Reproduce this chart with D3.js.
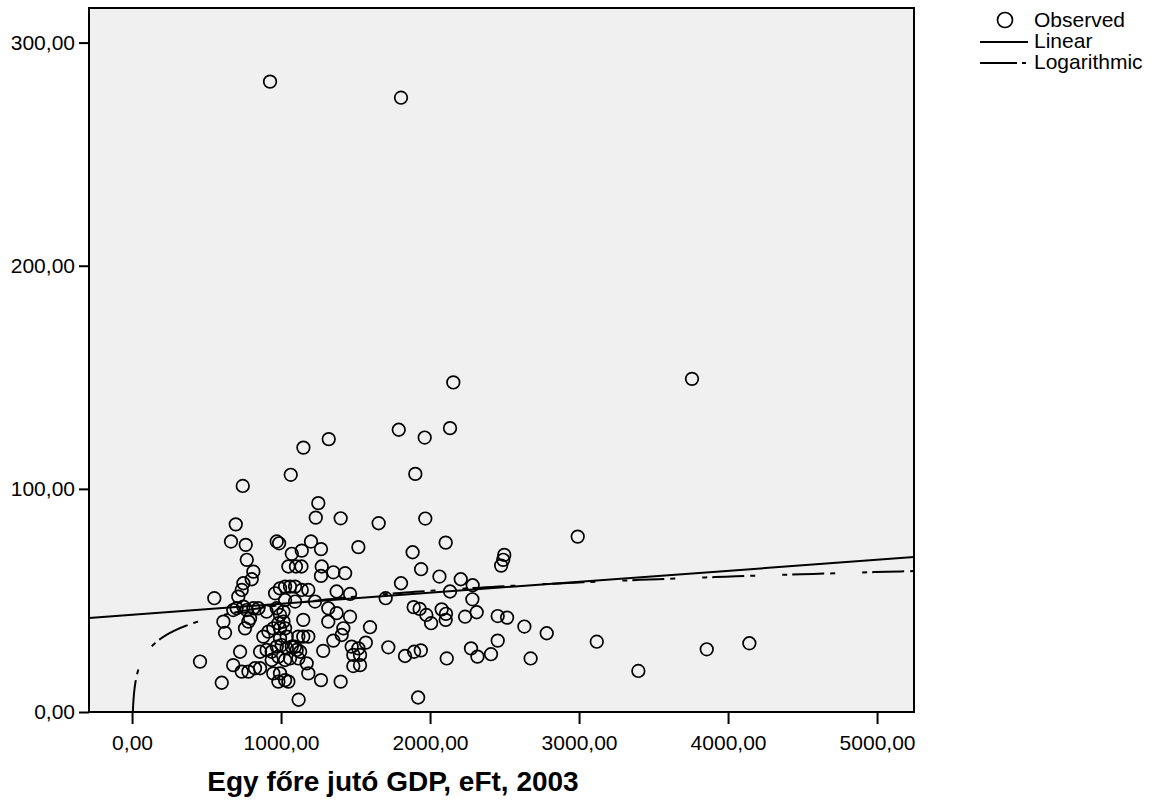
<!DOCTYPE html>
<html>
<head>
<meta charset="utf-8">
<script src="https://cdn.jsdelivr.net/npm/d3@7"></script>
<style>
  html, body { margin: 0; padding: 0; background: #ffffff; }
  svg { display: block; }
  text { font-family: "Liberation Sans", Arial, sans-serif; fill: #000; }
</style>
</head>
<body>
<svg id="chart" width="1152" height="801"></svg>
<script>
// GDP per capita (thousand Ft, 2003) for each observation
const gdp = [
  926, 1805, 2156, 3758, 1790, 1964, 2134, 1320, 1150, 743,
  1065, 1901, 1250, 1233, 1400, 1968, 1655, 696, 664, 763,
  971, 987, 1201, 2105, 2991, 1268, 1519, 1139, 1072, 1883,
  2498, 2491, 2477, 770, 1049, 1100, 1137, 1273, 1268, 1351,
  1430, 1940, 814, 803, 2063, 2206, 1805, 2286, 747, 736,
  960, 993, 1027, 1060, 1094, 1139, 1183, 1373, 1463, 2134,
  552, 713, 1094, 1027, 1228, 1702, 2284, 1317, 1373, 1890,
  1930, 1975, 2007, 2078, 2107, 2105, 2235, 2313, 2454, 2517,
  2633, 2783, 1149, 1317, 1463, 1418, 1407, 1597, 1116, 1149,
  1183, 1351, 1569, 1720, 1094, 1128, 1116, 1172, 1283, 1474,
  1519, 1485, 1530, 1485, 1530, 1832, 1893, 1938, 2112, 2275,
  2318, 2409, 2454, 2675, 1920, 1183, 1268, 1400, 1118, 3119,
  3398, 3857, 4143, 679, 702, 747, 770, 814, 848, 792,
  781, 613, 624, 758, 903, 971, 993, 1016, 982, 1016,
  993, 1027, 881, 915, 948, 993, 1038, 859, 903, 937,
  971, 1004, 1038, 1072, 1105, 937, 982, 1027, 1060, 725,
  456, 679, 736, 781, 825, 859, 948, 993, 1027, 1049,
  982, 602
];
// Observed values on the vertical axis, same order as gdp
const observed = [
  282.5, 275.3, 147.7, 149.3, 126.5, 123.0, 127.2, 122.3, 118.5, 101.3,
  106.3, 106.7, 93.6, 87.1, 86.8, 86.7, 84.6, 84.1, 76.4, 74.9,
  76.4, 75.6, 76.4, 75.9, 78.6, 73.0, 73.9, 72.3, 70.9, 71.6,
  70.4, 68.2, 65.6, 68.2, 65.2, 65.2, 65.2, 65.2, 61.0, 62.6,
  62.2, 64.0, 62.9, 59.5, 60.7, 59.5, 57.7, 56.8, 57.7, 54.7,
  53.2, 55.4, 56.2, 56.2, 56.2, 54.7, 54.7, 54.0, 52.9, 54.0,
  51.0, 51.7, 49.5, 50.2, 49.5, 51.0, 50.5, 46.5, 44.3, 47.0,
  46.2, 43.5, 39.8, 46.0, 44.0, 41.3, 42.7, 44.7, 43.0, 42.3,
  38.3, 35.3, 41.3, 40.5, 42.7, 37.5, 34.5, 38.0, 33.8, 33.8,
  33.8, 32.0, 31.1, 29.0, 29.3, 27.0, 24.0, 21.8, 27.4, 29.3,
  28.5, 25.6, 25.6, 20.6, 21.0, 25.1, 27.0, 27.6, 24.0, 28.5,
  24.8, 25.9, 32.0, 24.0, 6.5, 17.3, 14.3, 13.6, 5.5, 31.5,
  18.4, 28.1, 30.8, 45.7, 46.5, 47.2, 45.7, 46.5, 46.5, 42.0,
  40.5, 40.5, 35.5, 37.5, 45.0, 46.5, 43.5, 45.0, 39.8, 40.5,
  37.5, 37.5, 33.8, 36.0, 37.5, 33.0, 33.8, 27.0, 27.8, 27.0,
  29.3, 30.0, 28.5, 29.3, 27.8, 23.3, 24.8, 23.3, 24.0, 27.0,
  22.6, 21.0, 18.1, 18.1, 19.6, 19.6, 17.3, 17.3, 14.3, 13.6,
  13.6, 13.1
];

// Fitted models
const linearIntercept = 43.6, linearSlope = 0.00492;
const logIntercept = -15.3, logSlope = 9.16;

// Axis ticks
const xTicks = [0, 1000, 2000, 3000, 4000, 5000];
const yTicks = [0, 100, 200, 300];
const xTitle = "Egy főre jutó GDP, eFt, 2003";
const legendLabels = ["Observed", "Linear", "Logarithmic"];

const svg = d3.select("#chart");
const plot = { left: 89, right: 914, top: 8, bottom: 712 };

const x = d3.scaleLinear().domain([-289, 5248]).range([plot.left, plot.right]);
const y = d3.scaleLinear().domain([0, 315.5]).range([plot.bottom, plot.top]);

const fmt = v => d3.format(".2f")(v).replace(".", ",");

// plot background
svg.append("rect")
  .attr("x", plot.left).attr("y", plot.top)
  .attr("width", plot.right - plot.left).attr("height", plot.bottom - plot.top)
  .attr("fill", "#f0f0f0");

svg.append("clipPath").attr("id", "plotclip")
  .append("rect")
  .attr("x", plot.left).attr("y", plot.top)
  .attr("width", plot.right - plot.left).attr("height", plot.bottom - plot.top);

const g = svg.append("g").attr("clip-path", "url(#plotclip)");

// observed points
const pts = gdp.map((v, i) => ({ gdp: v, val: observed[i] }));
g.selectAll("circle.obs").data(pts).join("circle")
  .attr("class", "obs")
  .attr("cx", d => x(d.gdp))
  .attr("cy", d => y(d.val))
  .attr("r", 6.3)
  .attr("fill", "none")
  .attr("stroke", "#000")
  .attr("stroke-width", 1.7);

// linear fit
const xDom = x.domain();
g.append("path")
  .datum([xDom[0], xDom[1]])
  .attr("d", d3.line().x(d => x(d)).y(d => y(linearIntercept + linearSlope * d)))
  .attr("fill", "none").attr("stroke", "#000").attr("stroke-width", 2);

// logarithmic fit, sampled on a geometric grid so the steep start stays smooth
const xStart = Math.exp(-logIntercept / logSlope);
const logXs = d3.range(0, 401).map(i => xStart * Math.pow(xDom[1] / xStart, i / 400));
g.append("path")
  .datum(logXs)
  .attr("d", d3.line().x(d => x(d)).y(d => y(logIntercept + logSlope * Math.log(d))))
  .attr("fill", "none").attr("stroke", "#000").attr("stroke-width", 2)
  .attr("stroke-dasharray", "32,6,5,27,5,5");

// frame
svg.append("rect")
  .attr("x", plot.left).attr("y", plot.top)
  .attr("width", plot.right - plot.left).attr("height", plot.bottom - plot.top)
  .attr("fill", "none").attr("stroke", "#000").attr("stroke-width", 2);

// axes
const yAxis = svg.append("g")
  .attr("transform", `translate(${plot.left},0)`)
  .call(d3.axisLeft(y).tickValues(yTicks).tickFormat(fmt).tickSize(10).tickSizeOuter(0).tickPadding(4));
yAxis.select(".domain").remove();
yAxis.selectAll(".tick line").attr("stroke-width", 2);
yAxis.selectAll(".tick text").attr("font-size", 21).attr("font-family", "Liberation Sans, Arial, sans-serif");

const xAxis = svg.append("g")
  .attr("transform", `translate(0,${plot.bottom})`)
  .call(d3.axisBottom(x).tickValues(xTicks).tickFormat(fmt).tickSize(12).tickSizeOuter(0).tickPadding(11));
xAxis.select(".domain").remove();
xAxis.selectAll(".tick line").attr("stroke-width", 2);
xAxis.selectAll(".tick text").attr("font-size", 21).attr("font-family", "Liberation Sans, Arial, sans-serif");

// axis title
svg.append("text")
  .attr("x", 393).attr("y", 791)
  .attr("text-anchor", "middle")
  .attr("font-size", 28).attr("font-weight", "bold")
  .text(xTitle);

// legend
const leg = svg.append("g");
leg.append("circle").attr("cx", 1005).attr("cy", 20).attr("r", 7.5)
  .attr("fill", "none").attr("stroke", "#000").attr("stroke-width", 1.7);
leg.append("line").attr("x1", 980).attr("x2", 1028).attr("y1", 42).attr("y2", 42)
  .attr("stroke", "#000").attr("stroke-width", 2);
leg.append("line").attr("x1", 980).attr("x2", 1017).attr("y1", 63).attr("y2", 63)
  .attr("stroke", "#000").attr("stroke-width", 2);
leg.append("line").attr("x1", 1022).attr("x2", 1026).attr("y1", 63).attr("y2", 63)
  .attr("stroke", "#000").attr("stroke-width", 2);
leg.selectAll("text.leg").data(legendLabels).join("text")
  .attr("class", "leg")
  .attr("x", 1034)
  .attr("y", (d, i) => 20 + i * 21)
  .attr("dy", "0.35em")
  .attr("font-size", 21)
  .text(d => d);
</script>
</body>
</html>
